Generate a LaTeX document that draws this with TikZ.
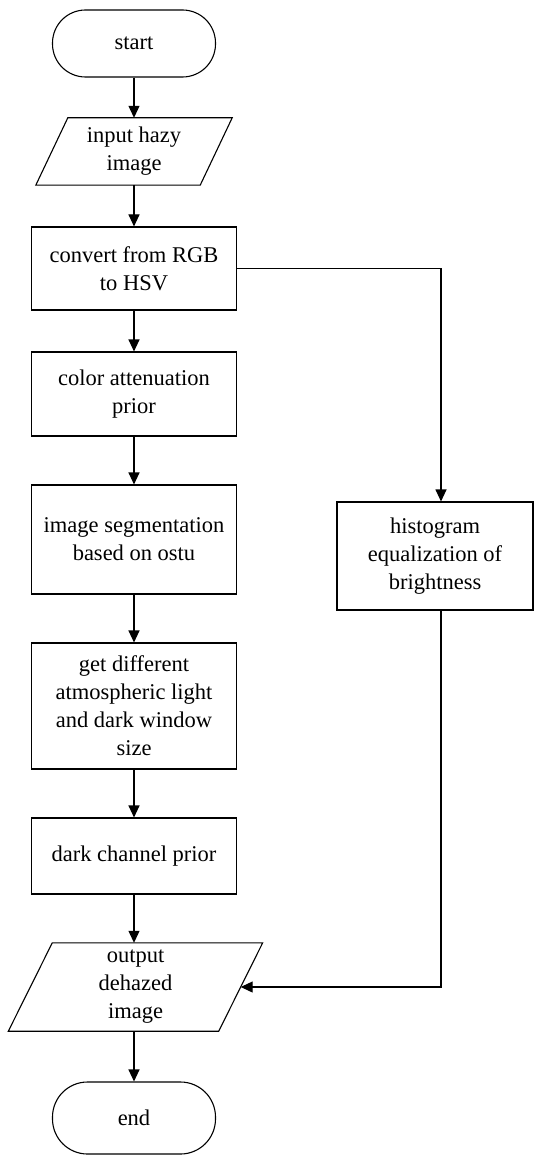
\documentclass[tikz,border=0pt]{standalone}
\usepackage{fontspec}
\setmainfont{Liberation Serif}
\usetikzlibrary{arrows.meta,calc}
\begin{document}
\begin{tikzpicture}[x=1pt,y=-1pt,
  every node/.style={font=\fontsize{22.5}{28}\selectfont, align=center, inner sep=0pt},
  lw/.style={line width=1.1pt},
  boxnode/.style={lw, draw, rectangle, minimum width=205pt},
  termnode/.style={lw, draw, rectangle, rounded corners=33pt, minimum width=163pt},
  ionode/.style={rectangle},
  arr/.style={lw, -{Triangle[length=12pt,width=11pt]}}
]
\useasboundingbox (0,0) rectangle (534,1155);
\node[termnode, minimum height=67pt] (start) at (134,43.5) {start};
\node[ionode, minimum width=164pt, minimum height=67pt] (inp) at (134,151.5) {input hazy\\image};
\draw[lw] ([xshift=16pt]inp.north west) -- ([xshift=16pt]inp.north east) -- ([xshift=-16pt]inp.south east) -- ([xshift=-16pt]inp.south west) -- cycle;
\node[boxnode, minimum height=83pt] (conv) at (134,268.5) {convert from RGB\\to HSV};
\node[boxnode, minimum height=84pt] (cap) at (134,394) {color attenuation\\prior};
\node[boxnode, minimum height=109pt] (seg) at (134,539.5) {image segmentation\\based on ostu};
\node[boxnode, minimum height=126pt] (get) at (134,706) {get different\\atmospheric light\\and dark window\\size};
\node[boxnode, minimum height=76pt] (dcp) at (134,856) {dark channel prior};
\node[ionode, minimum width=210pt, minimum height=88pt] (outp) at (135.5,987) {output\\dehazed\\image};
\draw[lw] ([xshift=22pt]outp.north west) -- ([xshift=22pt]outp.north east) -- ([xshift=-22pt]outp.south east) -- ([xshift=-22pt]outp.south west) -- cycle;
\node[termnode, minimum height=72pt, rounded corners=35pt] (fin) at (134,1118) {end};
\node[boxnode, minimum width=196pt, minimum height=108pt] (hist) at (435,556) {histogram\\equalization of\\brightness};
\coordinate (cx) at (441,0);

\draw[arr] (start) -- (inp.north -| start);
\draw[arr] (inp.south -| start) -- (conv);
\draw[arr] (conv) -- (cap);
\draw[arr] (cap) -- (seg);
\draw[arr] (seg) -- (get);
\draw[arr] (get) -- (dcp);
\draw[arr] (dcp) -- (outp.north -| dcp);
\draw[arr] (outp.south -| dcp) -- (fin);
\draw[arr] (conv.east) -| (hist.north -| cx);
\draw[arr] (hist.south -| cx) |- (outp.east);
\end{tikzpicture}
\end{document}
